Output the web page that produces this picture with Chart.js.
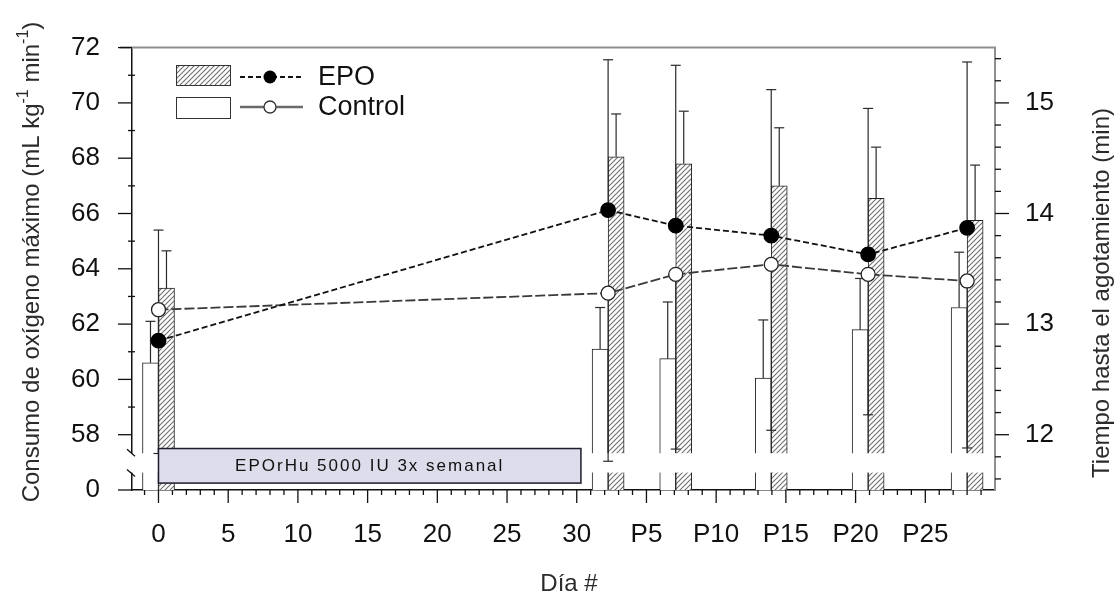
<!DOCTYPE html>
<html>
<head>
<meta charset="utf-8">
<script src="https://cdn.jsdelivr.net/npm/chart.js@4.4.0/dist/chart.umd.min.js"></script>
<style>
html, body { margin: 0; padding: 0; background: #ffffff; }
#wrap { width: 1115px; height: 594px; position: relative; }
</style>
</head>
<body>
<div id="wrap"><canvas id="chart-epo"></canvas></div>
<script>
// Días de medición (eje x lineal; P5 = día 35, etc.)
const timePoints = [0, 32.25, 37.1, 43.95, 50.9, 58.0];
const xTickValues = [0, 5, 10, 15, 20, 25, 30, 35, 40, 45, 50, 55];
const xTickLabels = ['0', '5', '10', '15', '20', '25', '30', 'P5', 'P10', 'P15', 'P20', 'P25'];

// Barras: consumo de oxígeno máximo (eje izquierdo, roto en 0)
const vo2Control = [60.6, 61.1, 60.75, 60.05, 61.8, 62.6];
const vo2ControlSd = [1.5, 1.5, 2.05, 2.1, 1.85, 2.0];
const vo2Epo = [63.3, 68.05, 67.8, 67.0, 66.55, 65.75];
const vo2EpoSd = [1.35, 1.55, 1.9, 2.1, 1.85, 2.0];
const vo2Ticks = [56, 58, 60, 62, 64, 66, 68, 70, 72];
const vo2TickLabels = ['0', '58', '60', '62', '64', '66', '68', '70', '72'];

// Líneas: tiempo hasta el agotamiento (eje derecho)
const timeEpo = [12.85, 14.03, 13.89, 13.8, 13.63, 13.87];
const timeEpoSd = [1.0, 1.36, 1.45, 1.32, 1.32, 1.5];
const timeControl = [13.13, 13.28, 13.45, 13.54, 13.45, 13.39];
const timeControlSd = [1.3, 1.52, 1.58, 1.5, 1.27, 1.51];
const timeTicks = [12, 13, 14, 15];

const FONT = "'Liberation Sans', Arial, sans-serif";
const ink = '#111111';
const frameGray = '#8f8f8f';

const canvas = document.getElementById('chart-epo');
const ctx0 = canvas.getContext('2d');

function makeHatch(ctx) {
    const c = document.createElement('canvas');
    c.width = 5; c.height = 5;
    const g = c.getContext('2d');
    g.fillStyle = '#ffffff';
    g.fillRect(0, 0, 5, 5);
    g.strokeStyle = '#6e6e6e';
    g.lineWidth = 1.1;
    g.beginPath(); g.moveTo(-1, 6); g.lineTo(6, -1); g.stroke();
    g.beginPath(); g.moveTo(-1, 1); g.lineTo(1, -1); g.stroke();
    g.beginPath(); g.moveTo(4, 6); g.lineTo(6, 4); g.stroke();
    return ctx.createPattern(c, 'repeat');
}
const hatch = makeHatch(ctx0);

function seg(ctx, x1, y1, x2, y2) {
    ctx.beginPath(); ctx.moveTo(x1, y1); ctx.lineTo(x2, y2); ctx.stroke();
}

function whisker(ctx, x, yFrom, yTo) {
    seg(ctx, x, yFrom, x, yTo);
    seg(ctx, x - 5, yTo, x + 5, yTo);
}

// rotura del eje, barras de error, marcas, leyenda, textos
const decorations = {
    id: 'decorations',
    afterDatasetDraw(chart, args) {
        if (args.index !== 0) return;
        const ctx = chart.ctx;
        const area = chart.chartArea;
        const sy = chart.scales.y, sy1 = chart.scales.y1;
        ctx.save();
        // hueco de la rotura del eje
        const gTop = sy.getPixelForValue(57.33), gBot = sy.getPixelForValue(56.63);
        ctx.fillStyle = '#ffffff';
        ctx.fillRect(area.left - 16, gTop, area.right - area.left + 14, gBot - gTop);
        ctx.strokeStyle = ink; ctx.lineWidth = 1.3;
        seg(ctx, area.left - 5, gTop - 4, area.left + 3, gTop + 3);
        seg(ctx, area.left - 5, gBot - 3, area.left + 3, gBot + 4);

        // barras de error de las barras
        ctx.strokeStyle = '#2a2a2a'; ctx.lineWidth = 1.2;
        [[0, vo2Control, vo2ControlSd], [1, vo2Epo, vo2EpoSd]].forEach(([di, vals, sds]) => {
            chart.getDatasetMeta(di).data.forEach((el, i) => {
                whisker(ctx, el.x, el.y, sy.getPixelForValue(vals[i] + sds[i]));
            });
        });
        // barras de error de las líneas (EPO hacia arriba, Control hacia abajo)
        chart.getDatasetMeta(2).data.forEach((el, i) => {
            whisker(ctx, el.x, el.y, sy1.getPixelForValue(timeEpo[i] + timeEpoSd[i]));
        });
        chart.getDatasetMeta(3).data.forEach((el, i) => {
            whisker(ctx, el.x, el.y, sy1.getPixelForValue(timeControl[i] - timeControlSd[i]));
        });
        ctx.restore();
    },
    afterDatasetsDraw(chart) {
        const ctx = chart.ctx;
        const area = chart.chartArea;
        const sx = chart.scales.x, sy = chart.scales.y, sy1 = chart.scales.y1;
        ctx.save();

        // borde superior gris
        ctx.strokeStyle = frameGray; ctx.lineWidth = 2;
        seg(ctx, area.left - 12, area.top, area.right + 1, area.top);

        // marcas de los ejes
        ctx.strokeStyle = ink; ctx.lineWidth = 1.3;
        vo2Ticks.forEach(v => {
            const y = sy.getPixelForValue(v);
            seg(ctx, area.left - 14, y, area.left, y);
        });
        for (let v = 59; v < 72; v += 2) {
            const y = sy.getPixelForValue(v);
            seg(ctx, area.left - 4, y, area.left + 3, y);
        }
        xTickValues.forEach(v => {
            const x = sx.getPixelForValue(v);
            seg(ctx, x, area.bottom, x, area.bottom + 13);
        });
        for (let v = -1; v <= 60; v++) {
            if (v % 5 === 0) continue;
            const x = sx.getPixelForValue(v);
            seg(ctx, x, area.bottom, x, area.bottom + 5);
        }
        timeTicks.forEach(v => {
            const y = sy1.getPixelForValue(v);
            seg(ctx, area.right, y, area.right + 14, y);
        });
        for (let k = 58; k <= 77; k++) {
            if (k % 5 === 0) continue;
            const y = sy1.getPixelForValue(k / 5);
            seg(ctx, area.right, y, area.right + 6, y);
        }

        // recuadro del tratamiento
        const bx0 = sx.getPixelForValue(0), bx1 = sx.getPixelForValue(30.3);
        const by0 = sy.getPixelForValue(57.5), by1 = sy.getPixelForValue(56.25);
        ctx.fillStyle = '#dcdcea';
        ctx.fillRect(bx0, by0, bx1 - bx0, by1 - by0);
        ctx.strokeStyle = '#1c1c2c'; ctx.lineWidth = 1.5;
        ctx.strokeRect(bx0, by0, bx1 - bx0, by1 - by0);
        ctx.fillStyle = '#111111';
        ctx.font = '17px ' + FONT;
        ctx.textAlign = 'center'; ctx.textBaseline = 'middle';
        if ('letterSpacing' in ctx) ctx.letterSpacing = '2px';
        ctx.fillText('EPOrHu 5000 IU 3x semanal', (bx0 + bx1) / 2, (by0 + by1) / 2 + 1);
        if ('letterSpacing' in ctx) ctx.letterSpacing = '0px';

        // leyenda
        ctx.lineWidth = 1;
        ctx.fillStyle = hatch;
        ctx.fillRect(176, 65, 54, 20);
        ctx.strokeStyle = '#333333';
        ctx.strokeRect(176.5, 65.5, 54, 20);
        ctx.fillStyle = '#ffffff';
        ctx.fillRect(176, 97, 54, 21);
        ctx.strokeRect(176.5, 97.5, 54, 21);

        ctx.strokeStyle = '#111111'; ctx.lineWidth = 1.8;
        ctx.setLineDash([5, 3]);
        seg(ctx, 240, 77, 303, 77);
        ctx.setLineDash([]);
        ctx.fillStyle = '#000000';
        ctx.beginPath(); ctx.arc(270, 77, 6.5, 0, Math.PI * 2); ctx.fill();

        ctx.strokeStyle = '#6a6a6a'; ctx.lineWidth = 2.5;
        seg(ctx, 240, 107, 303, 107);
        ctx.fillStyle = '#ffffff'; ctx.strokeStyle = '#333333'; ctx.lineWidth = 1.3;
        ctx.beginPath(); ctx.arc(270, 107, 6, 0, Math.PI * 2); ctx.fill(); ctx.stroke();

        ctx.fillStyle = ink;
        ctx.font = '27px ' + FONT;
        ctx.textAlign = 'left'; ctx.textBaseline = 'middle';
        ctx.fillText('EPO', 318, 78);
        ctx.fillText('Control', 318, 108);

        // títulos de los ejes
        ctx.fillStyle = '#2b2b2b';
        ctx.font = '24px ' + FONT;
        ctx.textAlign = 'center';
        ctx.fillText('Día #', 569, 584);

        ctx.save();
        ctx.translate(1102, 293);
        ctx.rotate(-Math.PI / 2);
        ctx.fillText('Tiempo hasta el agotamiento (min)', 0, 0);
        ctx.restore();

        // título izquierdo con superíndices
        const parts = [
            ['Consumo de oxígeno máximo (mL kg', false],
            ['-1', true],
            [' min', false],
            ['-1', true],
            [')', false]
        ];
        const normalFont = '24px ' + FONT, supFont = '16px ' + FONT;
        let total = 0;
        parts.forEach(([t, sup]) => { ctx.font = sup ? supFont : normalFont; total += ctx.measureText(t).width; });
        ctx.save();
        ctx.translate(32, 262);
        ctx.rotate(-Math.PI / 2);
        ctx.textAlign = 'left';
        let cx = -total / 2;
        parts.forEach(([t, sup]) => {
            ctx.font = sup ? supFont : normalFont;
            ctx.fillText(t, cx, sup ? -8 : 0);
            cx += ctx.measureText(t).width;
        });
        ctx.restore();

        ctx.restore();
    }
};

const tickFont = { family: FONT, size: 26 };

new Chart(canvas, {
    type: 'bar',
    data: {
        datasets: [
            {
                type: 'bar',
                label: 'Control',
                data: timePoints.map((x, i) => ({ x: x, y: vo2Control[i] })),
                backgroundColor: '#ffffff',
                borderColor: '#222222',
                borderWidth: 1,
                barThickness: 16,
                yAxisID: 'y',
                order: 3
            },
            {
                type: 'bar',
                label: 'EPO',
                data: timePoints.map((x, i) => ({ x: x, y: vo2Epo[i] })),
                backgroundColor: hatch,
                borderColor: '#222222',
                borderWidth: 1,
                barThickness: 16,
                yAxisID: 'y',
                order: 3
            },
            {
                type: 'line',
                label: 'EPO',
                data: timePoints.map((x, i) => ({ x: x, y: timeEpo[i] })),
                yAxisID: 'y1',
                borderColor: '#111111',
                borderWidth: 1.8,
                borderDash: [6, 3],
                tension: 0,
                pointRadius: 7,
                pointBackgroundColor: '#000000',
                pointBorderColor: '#000000',
                order: 1
            },
            {
                type: 'line',
                label: 'Control',
                data: timePoints.map((x, i) => ({ x: x, y: timeControl[i] })),
                yAxisID: 'y1',
                borderColor: '#3a3a3a',
                borderWidth: 1.8,
                borderDash: [10, 3],
                tension: 0,
                pointRadius: 7,
                pointBackgroundColor: '#ffffff',
                pointBorderColor: '#222222',
                pointBorderWidth: 1.3,
                order: 2
            }
        ]
    },
    options: {
        responsive: true,
        maintainAspectRatio: false,
        animation: false,
        devicePixelRatio: 1,
        layout: { padding: { top: 35, left: 0, right: 0, bottom: 0 } },
        plugins: {
            legend: { display: false },
            tooltip: { enabled: false }
        },
        scales: {
            x: {
                type: 'linear',
                min: -1.9,
                max: 60,
                offset: false,
                afterBuildTicks: s => { s.ticks = xTickValues.map(v => ({ value: v })); },
                afterFit: s => { s.height = 104; },
                grid: { display: false, drawTicks: false },
                border: { display: true, color: ink, width: 1.5 },
                ticks: {
                    autoSkip: false,
                    maxRotation: 0,
                    padding: 29,
                    color: ink,
                    font: tickFont,
                    callback: (v, i) => xTickLabels[i]
                }
            },
            y: {
                type: 'linear',
                position: 'left',
                min: 56,
                max: 72,
                afterBuildTicks: s => { s.ticks = vo2Ticks.map(v => ({ value: v })); },
                afterFit: s => { s.width = 132; },
                grid: { display: false, drawTicks: false },
                border: { display: true, color: ink, width: 1.5 },
                ticks: {
                    padding: 32,
                    color: ink,
                    font: tickFont,
                    callback: (v, i) => vo2TickLabels[i]
                }
            },
            y1: {
                type: 'linear',
                position: 'right',
                min: 11.5,
                max: 15.5,
                afterBuildTicks: s => { s.ticks = timeTicks.map(v => ({ value: v })); },
                afterFit: s => { s.width = 120; },
                grid: { display: false, drawTicks: false },
                border: { display: true, color: frameGray, width: 2 },
                ticks: {
                    padding: 30,
                    color: ink,
                    font: tickFont,
                    callback: v => String(v)
                }
            }
        }
    },
    plugins: [decorations]
});
</script>
</body>
</html>
